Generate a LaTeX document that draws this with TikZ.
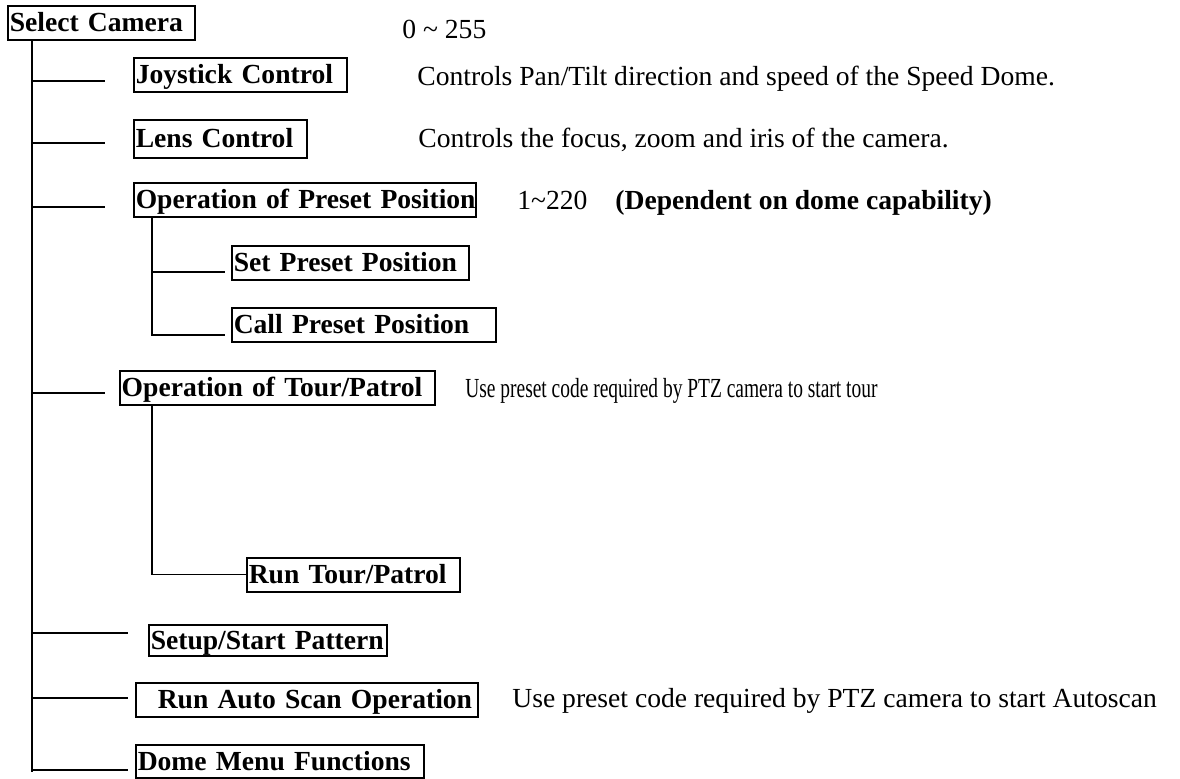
\documentclass[tikz,border=0pt]{standalone}
\usepackage{fontspec}
\setmainfont{Liberation Serif}
\usetikzlibrary{positioning}

\begin{document}
\begin{tikzpicture}[
  x=0.5pt, y=-0.5pt,
  font=\fontsize{13.8}{16}\selectfont,
  menubox/.style={draw, line width=0.75pt, font=\fontsize{13.8}{16}\selectfont\bfseries,
    anchor=north west, inner xsep=1pt, inner ysep=0pt, minimum height=17pt,
    text height=11pt, text depth=2pt, text width=#1, align=left},
  note/.style={anchor=base west, inner sep=0pt},
  link/.style={line width=0.55pt}]
  \useasboundingbox (0,0) rectangle (1180,778);
  % menu items
  \node[menubox=91.5pt] (cam) at (7,5) {\mbox{Select Camera}};
  \node[menubox=104.5pt] (joy) at (133,57) {\mbox{Joystick Control}};
  \node[menubox=84.5pt, minimum height=19pt] (lens) at (133,119) {\mbox{Lens Control}};
  \node[menubox=169pt] (preset) at (133,182) {\mbox{Operation of Preset Position}};
  \node[menubox=116.5pt] (setp) at (231,245) {\mbox{Set Preset Position}};
  \node[menubox=130pt] (callp) at (231,307) {\mbox{Call Preset Position}};
  \node[menubox=155.5pt] (tour) at (119,370) {\mbox{Operation of Tour/Patrol}};
  \node[menubox=104.5pt] (runtour) at (246,557) {\mbox{Run Tour/Patrol}};
  \node[menubox=117pt, minimum height=15.5pt] (pattern) at (148,624) {\mbox{Setup/Start Pattern}};
  \node[menubox=169pt] (autoscan) at (135,682) {\mbox{\hspace*{10pt}Run Auto Scan Operation}};
  \node[menubox=142pt, minimum height=16.5pt] (dome) at (135,744) {\mbox{Dome Menu Functions}};
  % descriptions
  \node[note] (range) at (402,38) {0 \textasciitilde{} 255};
  \node[note] (joytxt) at (417,85) {Controls Pan/Tilt direction and speed of the Speed Dome.};
  \node[note] (lenstxt) at (418,147) {Controls the focus, zoom and iris of the camera.};
  \node[note] (presetnum) at (517,209) {1\textasciitilde{}220};
  \node[note, font=\fontsize{13.8}{16}\selectfont\bfseries] (presetcap) at (615,209) {(Dependent on dome capability)};
  \node[note, xscale=0.705, transform shape] (tourtxt) at (465,397) {Use preset code required by PTZ camera to start tour};
  \node[note] (scantxt) at (512,707) {Use preset code required by PTZ camera to start Autoscan};
  % tree lines
  \coordinate (trunk) at (32,39);
  \coordinate (trunkend) at (32,772);
  \coordinate (bjoy) at (105,81);
  \coordinate (blens) at (105,143);
  \coordinate (bpreset) at (105,207);
  \coordinate (btour) at (105,393);
  \coordinate (bpattern) at (128,633);
  \coordinate (bscan) at (128,698);
  \coordinate (bdome) at (128,770);
  \coordinate (presettrunk) at (152,216);
  \coordinate (bsetp) at (225,272);
  \coordinate (bcallp) at (225,335);
  \coordinate (tourtrunk) at (152,404);
  \draw[link] (trunk) -- (trunkend);
  \foreach \b in {bjoy,blens,bpreset,btour,bpattern,bscan,bdome}
    \draw[link] (trunk |- \b) -- (\b);
  \draw[link] (presettrunk) -- (presettrunk |- bcallp) -- (bcallp);
  \draw[link] (presettrunk |- bsetp) -- (bsetp);
  \draw[link] (tourtrunk) |- (runtour.west);
\end{tikzpicture}
\end{document}
